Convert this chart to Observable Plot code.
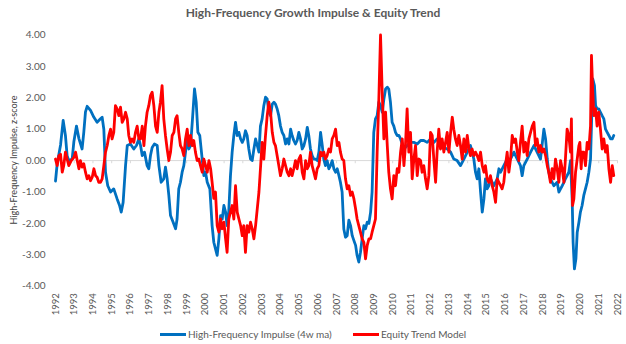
<!DOCTYPE html>
<html>
<head>
<meta charset="utf-8">
<script src="https://cdn.jsdelivr.net/npm/d3@7"></script>
<script src="https://cdn.jsdelivr.net/npm/@observablehq/plot@0.6"></script>
<style>
  html, body { margin: 0; padding: 0; background: #fff; }
  #wrap { width: 626px; height: 344px; position: relative; font-family: Lato, "Open Sans", sans-serif; color: #595959; }
  #title { height: 24px; line-height: 26px; text-align: center; font-weight: bold; font-size: 12px; color: #595959; }
  #ytitle { position: absolute; left: 13px; top: 160px; transform: translate(-50%, -50%) rotate(-90deg); white-space: nowrap; font-size: 9px; color: #404040; }
  #legend { height: 20px; line-height: 20px; font-size: 10px; color: #595959; position: relative; }
  .lg { position: absolute; top: 0; display: flex; align-items: center; height: 20px; }
  .sw { width: 26px; height: 3px; margin-right: 2px; }
</style>
</head>
<body>
<div id="wrap">
  <div id="title">High-Frequency Growth Impulse &amp; Equity Trend</div>
  <div id="chart"></div>
  <div id="legend"></div>
  <div id="ytitle"></div>
</div>
<script>
const yearTicks = [1992,1993,1994,1995,1996,1997,1998,1999,2000,2001,2002,2003,2004,2005,2006,2007,2008,2009,2010,2011,2012,2013,2014,2015,2016,2017,2018,2019,2020,2021,2022];
const yTicks = [-4,-3,-2,-1,0,1,2,3,4];
const yTitle = "High-Frequency Impulse, z-score";
const seriesNames = ["High-Frequency Impulse (4w ma)", "Equity Trend Model"];
const seriesColors = ["#0070C0", "#FF0000"];

const impulseYears = [1992.00,1992.09,1992.27,1992.41,1992.53,1992.62,1992.71,1992.89,1992.98,1993.12,1993.25,1993.42,1993.51,1993.60,1993.69,1993.87,1994.05,1994.22,1994.40,1994.49,1994.58,1994.67,1994.79,1994.94,1995.11,1995.29,1995.42,1995.51,1995.61,1995.74,1995.83,1996.00,1996.18,1996.32,1996.45,1996.54,1996.63,1996.75,1996.89,1996.98,1997.07,1997.16,1997.28,1997.43,1997.52,1997.64,1997.78,1997.87,1997.96,1998.05,1998.14,1998.28,1998.41,1998.49,1998.58,1998.67,1998.76,1998.85,1998.94,1999.03,1999.12,1999.21,1999.30,1999.42,1999.51,1999.60,1999.70,1999.83,1999.92,2000.01,2000.10,2000.24,2000.36,2000.45,2000.54,2000.63,2000.72,2000.81,2000.90,2000.99,2001.08,2001.16,2001.25,2001.34,2001.43,2001.52,2001.61,2001.70,2001.79,2001.88,2001.97,2002.05,2002.14,2002.23,2002.32,2002.41,2002.50,2002.59,2002.68,2002.77,2002.86,2002.94,2003.03,2003.12,2003.21,2003.30,2003.39,2003.48,2003.57,2003.66,2003.74,2003.83,2003.92,2004.01,2004.10,2004.19,2004.28,2004.37,2004.46,2004.55,2004.63,2004.72,2004.81,2004.90,2004.99,2005.08,2005.17,2005.26,2005.35,2005.44,2005.52,2005.61,2005.70,2005.79,2005.88,2005.97,2006.06,2006.15,2006.24,2006.32,2006.41,2006.50,2006.59,2006.68,2006.77,2006.86,2006.95,2007.04,2007.13,2007.21,2007.30,2007.39,2007.48,2007.57,2007.66,2007.75,2007.84,2007.93,2008.02,2008.10,2008.19,2008.28,2008.37,2008.46,2008.55,2008.64,2008.73,2008.82,2008.90,2008.99,2009.08,2009.17,2009.26,2009.35,2009.44,2009.53,2009.62,2009.71,2009.79,2009.88,2009.97,2010.06,2010.15,2010.24,2010.33,2010.42,2010.60,2010.77,2010.95,2011.13,2011.31,2011.49,2011.66,2011.84,2012.02,2012.20,2012.37,2012.55,2012.73,2012.91,2013.09,2013.26,2013.44,2013.62,2013.80,2013.98,2014.15,2014.33,2014.42,2014.51,2014.60,2014.69,2014.78,2014.87,2014.95,2015.04,2015.13,2015.22,2015.40,2015.58,2015.67,2015.76,2015.93,2016.11,2016.29,2016.47,2016.65,2016.82,2016.91,2017.00,2017.18,2017.36,2017.54,2017.71,2017.89,2018.07,2018.16,2018.25,2018.33,2018.42,2018.60,2018.78,2018.87,2018.96,2019.05,2019.14,2019.22,2019.31,2019.40,2019.49,2019.58,2019.63,2019.70,2019.78,2019.85,2019.94,2020.02,2020.11,2020.20,2020.29,2020.38,2020.47,2020.56,2020.61,2020.68,2020.77,2020.83,2020.91,2021.00,2021.09,2021.18,2021.27,2021.36,2021.45,2021.54,2021.63,2021.72,2021.80];
const impulseValues = [-0.65,-0.10,0.50,1.28,0.80,0.16,0.00,0.05,0.60,1.10,0.70,0.37,0.90,1.55,1.73,1.60,1.38,1.22,1.33,1.38,1.00,-0.37,-0.80,-1.00,-0.90,-1.22,-1.43,-1.64,-1.33,-0.15,0.48,0.53,0.37,0.48,0.69,0.48,0.16,0.27,-0.16,-0.26,0.16,0.42,0.53,0.48,-0.16,-0.69,-0.58,-0.21,-0.58,-1.11,-1.75,-1.96,-2.17,-1.86,-0.90,-0.69,-0.37,-0.16,0.27,0.69,0.37,0.48,1.22,2.28,1.86,0.90,0.80,0.05,-0.48,-0.37,-0.69,-0.90,-2.07,-2.60,-2.81,-3.02,-2.49,-1.75,-1.86,-1.43,-1.64,-2.07,-1.60,-0.48,0.27,0.80,1.22,0.80,0.90,0.69,0.58,0.69,0.95,0.80,0.37,0.05,0.00,0.37,0.69,0.48,0.27,1.10,1.33,1.75,2.02,1.96,1.54,1.43,1.80,1.86,1.80,1.65,1.43,1.10,0.90,0.80,0.53,0.69,0.53,1.00,0.80,0.64,0.53,0.64,0.90,0.69,0.37,0.48,0.69,1.06,0.80,0.37,0.16,0.05,0.05,0.00,0.27,0.90,0.48,0.05,-0.16,0.00,-0.26,-0.16,0.00,-0.26,-0.37,-0.26,-0.48,-0.69,-1.00,-2.18,-2.44,-2.39,-1.90,-2.07,-2.39,-2.55,-2.70,-3.02,-3.23,-2.92,-2.49,-2.07,-2.17,-1.96,-2.00,-1.64,-1.00,0.90,1.33,1.43,1.86,1.75,1.54,1.96,2.28,2.34,2.28,1.86,1.22,1.10,0.90,0.80,0.80,0.69,0.37,0.48,0.58,0.58,0.53,0.64,0.64,0.58,0.69,0.58,0.69,0.58,0.42,0.37,0.27,0.05,0.00,-0.16,0.05,0.27,0.48,0.05,-0.37,-0.58,-0.26,-1.00,-1.64,-1.22,-0.58,-0.90,-0.80,-0.58,-0.80,-0.58,-0.26,-0.37,-0.16,0.05,0.05,0.27,0.05,-0.16,-0.48,-0.16,0.05,0.27,0.48,0.27,0.05,1.00,0.69,0.05,-0.37,-0.58,-0.80,-0.69,-1.00,-0.90,-0.80,-0.69,-0.58,-0.48,-0.37,0.00,-1.22,-2.60,-3.45,-3.13,-2.28,-1.96,-1.64,-1.43,-1.11,-0.90,-0.69,-0.37,0.05,1.10,2.60,2.39,1.75,1.65,1.65,1.54,1.43,1.33,1.00,0.90,0.80,0.69,0.69,0.80];

const trendYears = [1992.00,1992.09,1992.18,1992.27,1992.36,1992.44,1992.53,1992.62,1992.71,1992.84,1992.98,1993.07,1993.16,1993.25,1993.33,1993.42,1993.51,1993.60,1993.69,1993.78,1993.87,1993.96,1994.05,1994.14,1994.22,1994.31,1994.40,1994.49,1994.58,1994.67,1994.76,1994.85,1994.94,1995.02,1995.11,1995.20,1995.29,1995.38,1995.47,1995.56,1995.65,1995.74,1995.83,1995.91,1996.00,1996.09,1996.18,1996.27,1996.36,1996.45,1996.54,1996.63,1996.72,1996.80,1996.89,1996.98,1997.07,1997.16,1997.25,1997.34,1997.43,1997.52,1997.60,1997.69,1997.78,1997.87,1997.96,1998.05,1998.14,1998.23,1998.32,1998.41,1998.49,1998.58,1998.67,1998.76,1998.85,1998.94,1999.03,1999.12,1999.21,1999.30,1999.38,1999.47,1999.56,1999.65,1999.74,1999.83,1999.92,2000.01,2000.10,2000.19,2000.28,2000.36,2000.45,2000.54,2000.63,2000.72,2000.81,2000.90,2000.99,2001.08,2001.16,2001.25,2001.34,2001.43,2001.52,2001.61,2001.70,2001.79,2001.88,2001.97,2002.05,2002.14,2002.23,2002.32,2002.41,2002.50,2002.59,2002.68,2002.77,2002.86,2002.94,2003.03,2003.12,2003.21,2003.30,2003.39,2003.48,2003.57,2003.66,2003.74,2003.83,2003.92,2004.01,2004.10,2004.19,2004.28,2004.37,2004.46,2004.55,2004.63,2004.72,2004.81,2004.90,2004.99,2005.08,2005.17,2005.26,2005.35,2005.44,2005.52,2005.61,2005.70,2005.79,2005.88,2005.97,2006.06,2006.15,2006.24,2006.32,2006.41,2006.50,2006.59,2006.68,2006.77,2006.86,2006.95,2007.04,2007.13,2007.21,2007.30,2007.39,2007.48,2007.57,2007.66,2007.75,2007.84,2007.93,2008.02,2008.10,2008.19,2008.28,2008.37,2008.46,2008.55,2008.64,2008.73,2008.82,2008.90,2008.99,2009.08,2009.17,2009.26,2009.35,2009.44,2009.53,2009.62,2009.71,2009.79,2009.88,2009.97,2010.06,2010.15,2010.24,2010.33,2010.42,2010.51,2010.60,2010.68,2010.77,2010.86,2010.95,2011.04,2011.13,2011.22,2011.31,2011.40,2011.49,2011.57,2011.66,2011.75,2011.84,2011.93,2012.02,2012.11,2012.20,2012.29,2012.37,2012.46,2012.55,2012.64,2012.73,2012.82,2012.91,2013.00,2013.09,2013.18,2013.26,2013.35,2013.44,2013.53,2013.62,2013.71,2013.80,2013.89,2013.98,2014.07,2014.15,2014.24,2014.33,2014.42,2014.51,2014.60,2014.69,2014.78,2014.87,2014.95,2015.04,2015.13,2015.22,2015.31,2015.40,2015.49,2015.58,2015.67,2015.76,2015.84,2015.93,2016.02,2016.11,2016.20,2016.29,2016.38,2016.47,2016.56,2016.65,2016.73,2016.82,2016.91,2017.00,2017.09,2017.18,2017.27,2017.36,2017.45,2017.54,2017.62,2017.71,2017.80,2017.89,2017.98,2018.07,2018.16,2018.25,2018.33,2018.42,2018.51,2018.60,2018.69,2018.78,2018.87,2018.96,2019.05,2019.14,2019.22,2019.31,2019.40,2019.49,2019.54,2019.60,2019.67,2019.76,2019.85,2019.94,2019.99,2020.06,2020.11,2020.20,2020.29,2020.38,2020.47,2020.56,2020.61,2020.68,2020.74,2020.83,2020.91,2021.00,2021.09,2021.18,2021.27,2021.36,2021.45,2021.54,2021.63,2021.72,2021.80];
const trendValues = [0.05,-0.16,0.16,0.20,-0.37,-0.16,0.27,0.05,-0.16,0.00,0.10,0.27,0.00,-0.26,0.00,-0.21,-0.10,-0.37,-0.58,-0.48,-0.64,-0.53,-0.26,-0.48,-0.53,-0.69,-0.69,-0.58,-0.16,0.27,0.48,0.80,1.00,0.69,0.90,1.75,1.65,1.43,1.70,1.22,1.33,1.54,1.33,0.80,0.58,0.69,0.58,0.90,1.10,0.69,0.69,1.10,0.48,1.10,1.54,1.75,2.07,2.18,1.75,1.10,0.90,1.54,1.86,2.39,1.33,0.80,0.37,0.00,0.27,0.80,0.90,1.33,1.43,0.90,0.48,0.37,0.16,0.69,1.00,0.48,0.80,0.48,0.64,0.27,0.00,0.05,-0.16,-0.37,0.05,-0.16,-0.37,0.00,-0.26,-0.69,-1.20,-1.00,-2.07,-2.28,-1.86,-2.17,-1.96,-2.49,-2.92,-1.86,-1.64,-1.43,-1.86,-0.80,-1.64,-1.86,-2.07,-2.39,-2.07,-2.92,-2.07,-2.28,-1.96,-2.17,-2.49,-2.07,-1.54,-1.00,-0.26,0.58,0.05,0.80,1.43,1.86,1.54,0.90,0.58,0.48,0.16,-0.16,-0.48,-0.26,0.05,-0.16,-0.37,-0.48,-0.26,-0.48,-0.26,0.00,-0.26,0.05,0.16,-0.37,-0.58,0.00,-0.26,-0.16,0.27,-0.16,-0.37,-0.58,-0.26,-0.16,0.27,0.16,0.27,0.05,0.16,0.37,0.27,0.69,0.80,1.00,0.48,0.58,0.27,0.05,0.00,-0.58,-0.90,-0.80,-1.11,-1.00,-1.22,-1.54,-1.86,-2.07,-2.28,-2.49,-2.60,-3.13,-2.70,-2.49,-2.49,-2.28,-2.07,-1.86,0.27,1.96,4.00,2.18,0.69,1.54,0.48,-0.37,-0.90,-1.22,-0.48,-0.80,-0.26,-0.37,0.27,0.69,-0.16,0.48,1.65,0.27,0.90,-0.58,0.05,0.48,-0.48,0.05,0.00,-0.37,-0.16,-0.58,-0.90,-0.48,0.90,0.80,0.00,-0.69,0.27,1.00,0.37,0.69,0.27,0.58,0.90,0.27,0.90,1.38,1.00,0.69,0.48,0.80,0.48,0.05,0.69,0.27,0.80,0.37,0.16,0.37,0.16,0.27,0.16,0.00,0.27,-0.16,-0.37,-0.16,-0.58,-0.69,-0.48,-0.80,-1.00,-1.33,-0.58,-0.69,-0.80,-0.90,-0.69,-0.16,0.27,-0.37,0.05,0.80,0.58,0.69,0.27,0.00,0.58,1.10,0.27,0.58,0.16,0.69,0.90,1.10,1.22,0.48,0.69,0.27,0.48,0.27,0.37,0.16,-0.16,-0.37,-0.69,-0.26,-0.58,0.05,-0.26,-0.69,0.00,-0.26,-0.69,0.05,1.00,0.80,0.27,1.33,-1.43,-1.22,-0.37,0.05,0.48,0.58,-0.26,0.27,0.27,-0.16,0.58,0.37,1.10,3.35,2.18,1.43,1.65,1.10,1.54,1.00,0.37,0.69,0.27,0.48,-0.26,-0.69,-0.16,-0.48];

const impulse = impulseYears.map((t, i) => ({t, v: impulseValues[i]}));
const trend = trendYears.map((t, i) => ({t, v: trendValues[i]}));

const chart = Plot.plot({
  width: 626,
  height: 300,
  marginLeft: 55,
  marginRight: 9,
  marginTop: 10.5,
  marginBottom: 38.3,
  style: {fontFamily: "Lato, 'Open Sans', sans-serif", fontSize: "10px", color: "#595959", background: "#fff"},
  x: {type: "linear", domain: [1992, 2022]},
  y: {domain: [-4, 4]},
  marks: [
    Plot.ruleY([0], {stroke: "#d9d9d9", strokeWidth: 1}),
    Plot.ruleX(yearTicks, {x: d => d, y1: 0, y2: -0.1, stroke: "#d9d9d9"}),
    Plot.axisY(yTicks, {tickSize: 0, tickPadding: 10, tickFormat: d => d.toFixed(2), label: null, fontSize: 10}),
    Plot.axisX(yearTicks, {anchor: "bottom", tickSize: 0, tickPadding: 7, tickRotate: -90, tickFormat: d => String(d), label: null, fontSize: 9.5}),
    Plot.line(impulse, {x: "t", y: "v", stroke: seriesColors[0], strokeWidth: 2.8, curve: "linear"}),
    Plot.line(trend, {x: "t", y: "v", stroke: seriesColors[1], strokeWidth: 2.8, curve: "linear"})
  ]
});
document.getElementById("chart").appendChild(chart);
document.getElementById("ytitle").textContent = yTitle;

const legend = document.getElementById("legend");
const lgPos = [160, 353];
seriesNames.forEach((name, i) => {
  const item = document.createElement("div");
  item.className = "lg";
  item.style.left = lgPos[i] + "px";
  const sw = document.createElement("div");
  sw.className = "sw";
  sw.style.background = seriesColors[i];
  const tx = document.createElement("span");
  tx.textContent = name;
  item.appendChild(sw);
  item.appendChild(tx);
  legend.appendChild(item);
});
</script>
</body>
</html>
